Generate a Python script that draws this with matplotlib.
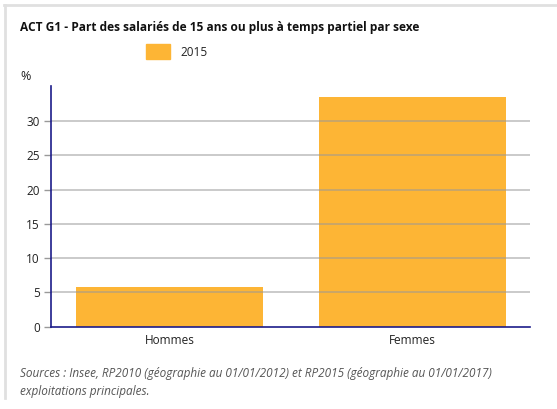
import matplotlib.pyplot as plt
from matplotlib.lines import Line2D
from matplotlib.patches import Rectangle

categories = ['Hommes', 'Femmes']
values_2015 = [5.8, 33.5]
yticks = [0, 5, 10, 15, 20, 25, 30]

plt.rcParams['font.family'] = ['Open Sans', 'DejaVu Sans']

fig = plt.figure(figsize=(5.57, 4.09), dpi=100)
W, H = 557, 409

# light grey border on the top and left edges only
fig.lines.append(Line2D([5 / W, 5 / W], [1 - 5 / H, 1 - 398 / H], transform=fig.transFigure,
                        color='#e0e0e0', linewidth=2))
fig.lines.append(Line2D([4 / W, 1], [1 - 5 / H, 1 - 5 / H], transform=fig.transFigure,
                        color='#e0e0e0', linewidth=2))

ax = fig.add_axes([51 / W, (H - 326.7) / H, (530 - 51) / W, (326.7 - 86) / H])

x = range(len(categories))
ax.bar(x, values_2015, width=0.77, color='#fdb535', zorder=2)

ax.set_xlim(-0.488, 1.484)
ax.set_ylim(0, 35.1)
ax.set_xticks(list(x))
ax.set_xticklabels(categories, fontsize=8.5, color='#222222')
ax.set_yticks(yticks)
ax.set_yticklabels([str(t) for t in yticks], fontsize=8.5, color='#222222')
ax.tick_params(axis='x', length=0, pad=5)
ax.tick_params(axis='y', length=5, color='#999999', width=1, pad=3)

for t in yticks[1:]:
    ax.axhline(t, color='#999999', alpha=0.6, linewidth=1.2, zorder=3)

for s in ['top', 'right']:
    ax.spines[s].set_visible(False)
for s in ['left', 'bottom']:
    ax.spines[s].set_color('#1c1c8a')
    ax.spines[s].set_linewidth(1.2)
    ax.spines[s].set_zorder(4)

fig.text(20 / W, 1 - 27 / H, 'ACT G1 - Part des salariés de 15 ans ou plus à temps partiel par sexe',
         fontsize=8.6, fontweight='bold', color='#111111', va='center', ha='left')

# legend
fig.patches.append(Rectangle((146 / W, 1 - 59 / H), 24 / W, 15 / H,
                             transform=fig.transFigure, color='#fdb535'))
fig.text(180 / W, 1 - 52 / H, '2015', fontsize=8.5, color='#222222', va='center', ha='left')

fig.text(20 / W, 1 - 77 / H, '%', fontsize=9, color='#222222', va='center', ha='left')

fig.text(20 / W, 1 - 374 / H,
         'Sources : Insee, RP2010 (géographie au 01/01/2012) et RP2015 (géographie au 01/01/2017)',
         fontsize=8.5, style='italic', color='#555555', va='center', ha='left')
fig.text(20 / W, 1 - 391 / H, 'exploitations principales.',
         fontsize=8.5, style='italic', color='#555555', va='center', ha='left')

fig.savefig('out.png', dpi=100, facecolor='white')
